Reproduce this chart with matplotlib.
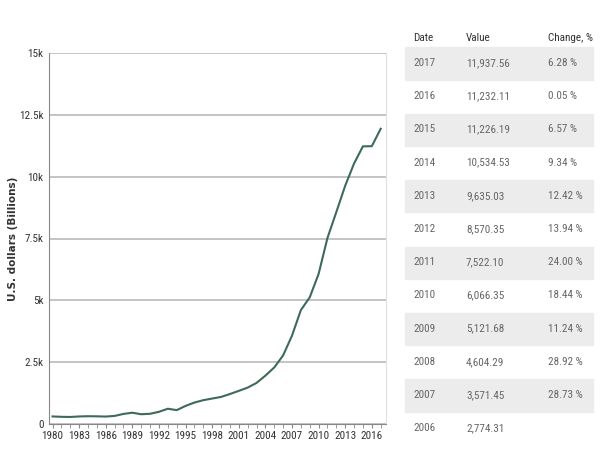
import matplotlib
matplotlib.use("Agg")
import matplotlib.pyplot as plt
from matplotlib import font_manager
from matplotlib.patches import Rectangle
from matplotlib.ticker import FuncFormatter, MultipleLocator

# GDP, US dollars (billions)
years = list(range(1980, 2018))
gdp = [305.35, 290.17, 283.95, 304.97, 314.64, 310.08, 300.72, 327.09, 407.85, 456.31,
       394.57, 413.38, 493.05, 616.97, 561.34, 732.09, 867.23, 963.71, 1029.06, 1094.01,
       1211.35, 1339.40, 1470.56, 1660.29, 1955.35, 2286.69, 2774.31, 3571.45, 4604.29, 5121.68,
       6066.35, 7522.10, 8570.35, 9635.03, 10534.53, 11226.19, 11232.11, 11937.56]
# table: most recent 12 years
table_years = years[::-1][:12]
table_values = gdp[::-1][:12]
table_changes = ["6.28 %", "0.05 %", "6.57 %", "9.34 %", "12.42 %", "13.94 %",
                 "24.00 %", "18.44 %", "11.24 %", "28.92 %", "28.73 %", ""]

names = {f.name for f in font_manager.fontManager.ttflist}
font = "DejaVu Sans"
for cand in ["Liberation Sans Narrow", "Roboto Condensed", "Open Sans Condensed", "Lato"]:
    if cand in names:
        font = cand
        break
plt.rcParams['font.family'] = [font, 'DejaVu Sans']

fig = plt.figure(figsize=(6, 4.5), dpi=100)
ax = fig.add_axes([49/600, 1-424/450, (386-49)/600, (424-53)/450])

ax.plot(years, gdp, color="#3d6b56", lw=1.5)

ax.set_xlim(1979.6, 2017.6)
ax.set_ylim(0, 15000)
ax.yaxis.set_major_locator(MultipleLocator(2500))
ax.yaxis.set_major_formatter(FuncFormatter(lambda v, p: "0" if v == 0 else ("%gk" % (v/1000))))
ax.set_xticks(range(1980, 2017, 3))
ax.xaxis.set_minor_locator(MultipleLocator(1))
ax.grid(axis="y", color="#c4c4c4", lw=1.4)
ax.set_axisbelow(True)
ax.spines["top"].set_visible(False)
ax.spines["right"].set_color("#e0e0e0")
ax.spines["left"].set_color("#888888")
ax.spines["bottom"].set_color("#888888")
ax.tick_params(axis="y", length=0, labelsize=8, colors="#333333", pad=4)
ax.tick_params(axis="x", which="both", length=3, color="#888888", labelsize=8,
               labelcolor="#333333", pad=2)
ax.set_ylabel("U.S. dollars (Billions)", fontsize=7.5, fontweight="bold",
              color="#333333", family="DejaVu Sans")
ax.yaxis.set_label_coords(-(49-18)/337, 0.5)

# table on the right
row_h = 33.2
y0 = 63
fig.text(413/600, 1-38/450, "Date", fontsize=8, color="#333333", va="center")
fig.text(466/600, 1-38/450, "Value", fontsize=8, color="#333333", va="center")
fig.text(548/600, 1-38/450, "Change, %", fontsize=8, color="#333333", va="center")
for i, (yr, val, ch) in enumerate(zip(table_years, table_values, table_changes)):
    yc = y0 + i*row_h
    if i % 2 == 0:
        fig.patches.append(Rectangle((405/600, 1-(yc+row_h/2)/450), 188/600, (row_h-1)/450,
                                     transform=fig.transFigure, color="#ececec", zorder=0))
    fig.text(413/600, 1-yc/450, str(yr), fontsize=8, color="#666666", va="center")
    fig.text(466/600, 1-yc/450, "{:,.2f}".format(val), fontsize=8, color="#666666", va="center")
    fig.text(548/600, 1-yc/450, ch, fontsize=8, color="#666666", va="center")

fig.savefig("out.png", dpi=100)
